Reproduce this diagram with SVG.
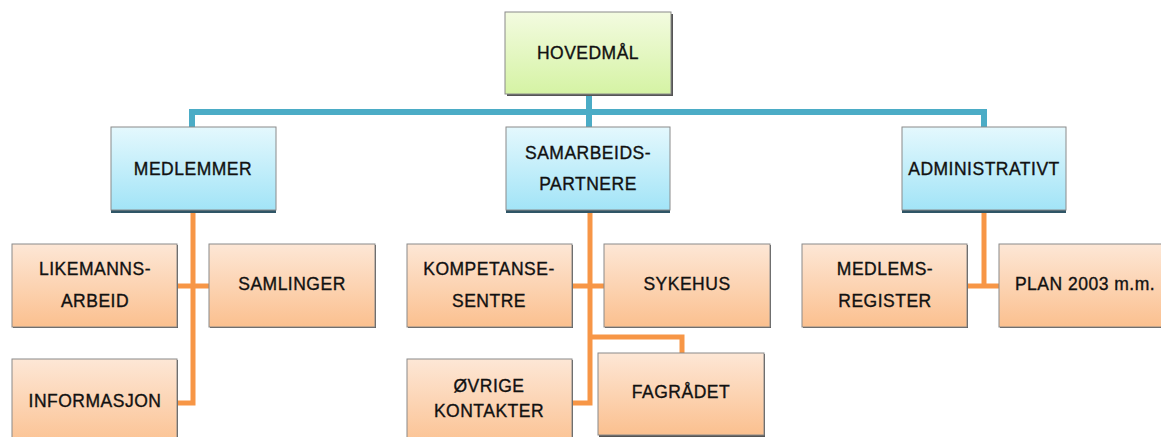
<svg xmlns="http://www.w3.org/2000/svg" width="1161" height="437" viewBox="0 0 1161 437">
<defs>
<linearGradient id="gG" x1="0" y1="0" x2="0" y2="1"><stop offset="0" stop-color="#f3fbe0"/><stop offset="1" stop-color="#d5f3a4"/></linearGradient>
<linearGradient id="gB" x1="0" y1="0" x2="0" y2="1"><stop offset="0" stop-color="#e4f8fd"/><stop offset="1" stop-color="#a2e4f7"/></linearGradient>
<linearGradient id="gO" x1="0" y1="0" x2="0" y2="1"><stop offset="0" stop-color="#fde7d6"/><stop offset="1" stop-color="#fbc08f"/></linearGradient>
</defs>
<style>
.box{stroke:#8a8a8a;stroke-width:1}
.sh{fill:#555}
.g{fill:url(#gG)}
.b{fill:url(#gB)}
.o{fill:url(#gO)}
.bsh{fill:#2f5566}
text{font-family:"Liberation Sans",Arial,sans-serif;font-size:17.5px;letter-spacing:0.5px;fill:#111;stroke:#111;stroke-width:0.35;text-anchor:middle;dominant-baseline:central}
.cb{fill:none;stroke:#4bacc6;stroke-width:6}
.co{fill:none;stroke:#f79646;stroke-width:5}
</style>
<g id="connectors">
<path class="cb" d="M589,94 V112 M192,128 V112 H984 V128 M589,112 V128"/>
<path class="co" d="M193,211 V403 H177 M177,286 H209"/>
<path class="co" d="M590,211 V403 H572 M572,286 H604 M590,337 H682 V353"/>
<path class="co" d="M984,211 V286 M967,286 H999"/>
</g>
<g id="hovedmal"><rect x="507" y="14" width="166" height="82" class="sh"/><rect x="505" y="12" width="166" height="82" class="g box"/><text x="588" y="53">HOVEDMÅL</text></g>
<g id="medlemmer"><rect x="111" y="129" width="165" height="84" class="bsh"/><rect x="111" y="127" width="165" height="83" class="b box"/><text x="193" y="169">MEDLEMMER</text></g>
<g id="samarbeid"><rect x="506" y="129" width="164" height="84" class="bsh"/><rect x="506" y="127" width="164" height="83" class="b box"/><text x="588" y="153">SAMARBEIDS-</text><text x="588" y="184">PARTNERE</text></g>
<g id="administrativt"><rect x="902" y="129" width="164" height="84" class="bsh"/><rect x="902" y="127" width="164" height="83" class="b box"/><text x="984" y="169">ADMINISTRATIVT</text></g>
<g id="likemanns"><rect x="13" y="245" width="165" height="83" class="sh"/><rect x="12" y="244" width="165" height="83" class="o box"/><text x="95" y="269">LIKEMANNS-</text><text x="95" y="301">ARBEID</text></g>
<g id="samlinger"><rect x="210" y="245" width="166" height="83" class="sh"/><rect x="209" y="244" width="166" height="83" class="o box"/><text x="292" y="284">SAMLINGER</text></g>
<g id="informasjon"><rect x="13" y="360" width="165" height="90" class="sh"/><rect x="12" y="359" width="165" height="90" class="o box"/><text x="95" y="401">INFORMASJON</text></g>
<g id="kompetanse"><rect x="408" y="245" width="165" height="83" class="sh"/><rect x="407" y="244" width="165" height="83" class="o box"/><text x="489" y="269">KOMPETANSE-</text><text x="489" y="301">SENTRE</text></g>
<g id="sykehus"><rect x="605" y="245" width="166" height="83" class="sh"/><rect x="604" y="244" width="166" height="83" class="o box"/><text x="687" y="284">SYKEHUS</text></g>
<g id="ovrige"><rect x="408" y="360" width="165" height="90" class="sh"/><rect x="407" y="359" width="165" height="90" class="o box"/><text x="489" y="386">ØVRIGE</text><text x="489" y="411">KONTAKTER</text></g>
<g id="fagradet"><rect x="599" y="354" width="166" height="83" class="sh"/><rect x="598" y="353" width="166" height="82" class="o box"/><text x="681" y="392">FAGRÅDET</text></g>
<g id="medlemsregister"><rect x="803" y="245" width="165" height="83" class="sh"/><rect x="802" y="244" width="165" height="83" class="o box"/><text x="885" y="269">MEDLEMS-</text><text x="885" y="301">REGISTER</text></g>
<g id="plan"><rect x="1000" y="245" width="170" height="83" class="sh"/><rect x="999" y="244" width="170" height="83" class="o box"/><text x="1085" y="284">PLAN 2003 m.m.</text></g>
</svg>
